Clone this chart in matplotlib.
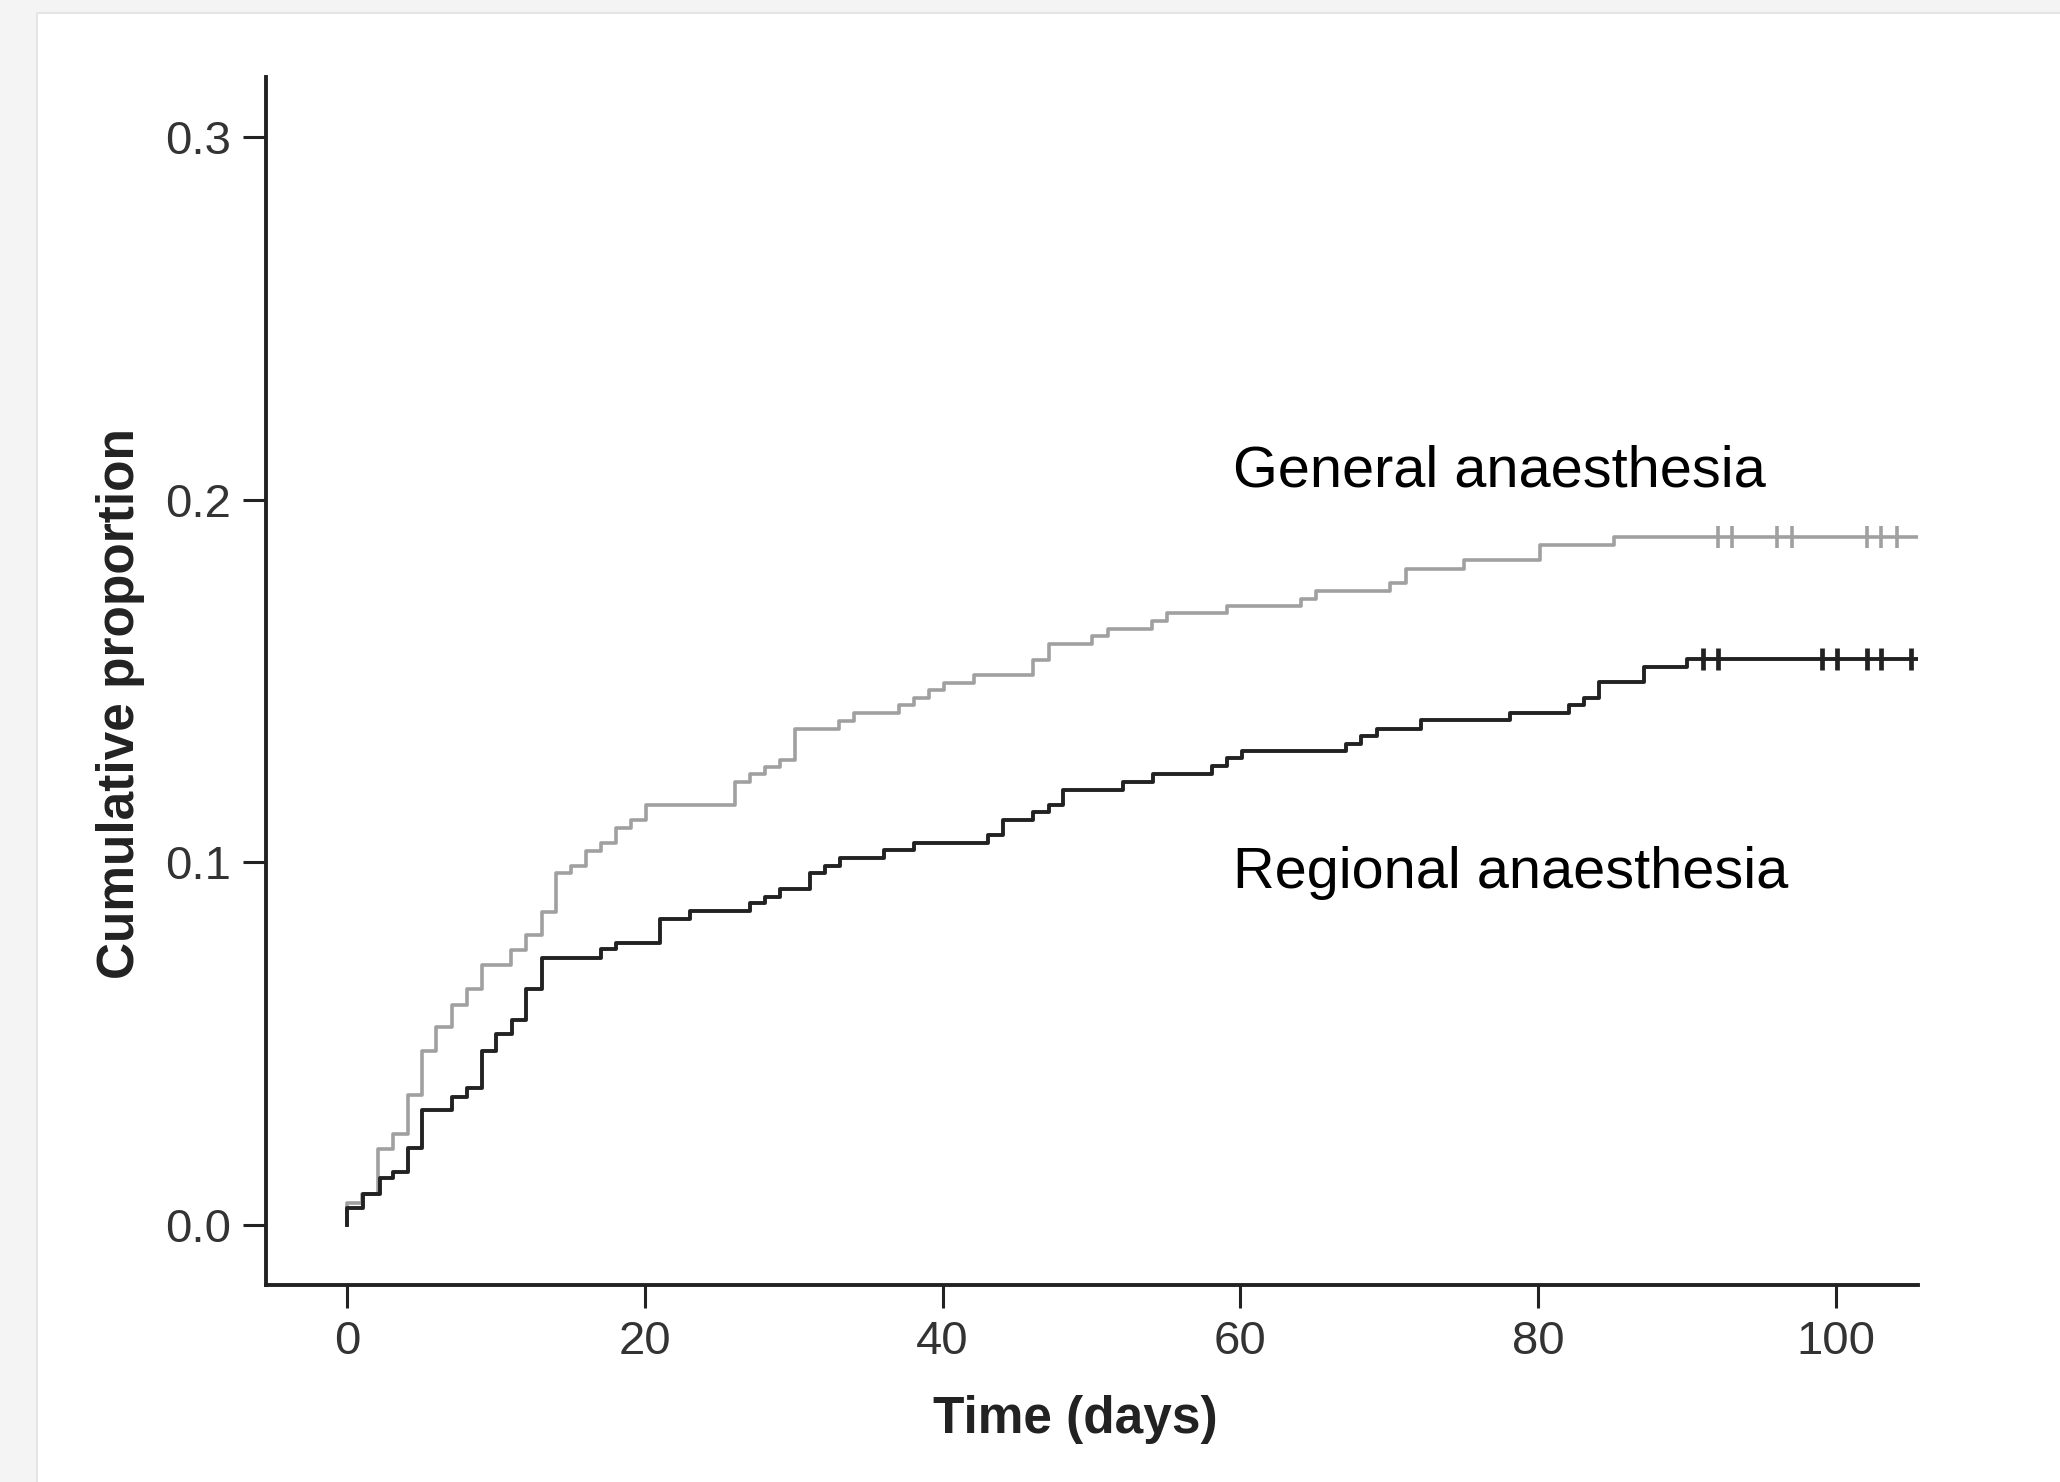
import matplotlib.pyplot as plt
from matplotlib.patches import Rectangle
import numpy as np

plt.rcParams['font.family'] = ['Liberation Sans', 'DejaVu Sans']

# Curva de incidencia acumulada - anestesia geral (cinza)
ga_times = [0, 0, 1.0, 2.05, 3.1, 4.1, 5.0, 6.0, 7.05, 8.05, 9.06, 11.0, 12.04, 13.1,
            14.05, 15.04, 16.07, 17.05, 18.06, 19.07, 20.1, 26.03, 27.04, 28.05, 29.05,
            30.1, 33.05, 34.07, 37.05, 38.06, 39.1, 40.07, 42.1, 46.05, 47.12, 50.04,
            51.09, 54.07, 55.08, 59.1, 64.08, 65.1, 70.08, 71.09, 75.05, 80.09, 85.08, 105.6]
ga_values = [0.0, 0.006, 0.0084, 0.0207, 0.025, 0.0357, 0.048, 0.0546, 0.0605, 0.0651,
             0.0716, 0.0757, 0.0798, 0.0863, 0.0969, 0.099, 0.1031, 0.1053, 0.1095, 0.1117,
             0.1157, 0.1221, 0.1242, 0.1263, 0.1283, 0.1368, 0.1389, 0.141, 0.1433, 0.1454,
             0.1474, 0.1494, 0.1515, 0.1557, 0.1601, 0.1623, 0.1644, 0.1665, 0.1686, 0.1707,
             0.1727, 0.1748, 0.177, 0.181, 0.1833, 0.1874, 0.1897, 0.1897]
ga_censored = [92.09, 93.03, 96.06, 97.06, 102.06, 103.04, 104.07]

# Curva - anestesia regional (preta)
ra_times = [0, 0, 1.07, 2.2, 3.1, 4.1, 5.0, 7.05, 8.05, 9.06, 10.0, 11.1, 12.04, 13.1,
            17.05, 18.06, 21.04, 23.06, 27.09, 28.05, 29.05, 31.07, 32.12, 33.1, 36.04,
            38.06, 43.03, 44.06, 46.05, 47.12, 48.07, 52.1, 54.14, 58.1, 59.1, 60.1, 67.06,
            68.1, 69.14, 72.1, 78.1, 82.06, 83.06, 84.07, 87.1, 90.0, 105.6]
ra_values = [0.0, 0.0045, 0.0085, 0.0127, 0.0146, 0.021, 0.0316, 0.0353, 0.0378, 0.048,
             0.0525, 0.0564, 0.0651, 0.0734, 0.0759, 0.0777, 0.0842, 0.0865, 0.0886, 0.0904,
             0.0927, 0.0969, 0.099, 0.1012, 0.1033, 0.1053, 0.1074, 0.1116, 0.1138, 0.1157,
             0.12, 0.1221, 0.1244, 0.1264, 0.1286, 0.1307, 0.1327, 0.1347, 0.1368, 0.1391,
             0.141, 0.1433, 0.1454, 0.1497, 0.1538, 0.1559, 0.1559]
ra_censored = [91.06, 92.09, 99.08, 100.04, 102.1, 103.04, 105.06]

x_ticks = [0, 20, 40, 60, 80, 100]
y_ticks = [0.0, 0.1, 0.2, 0.3]


def step_value(times, values, t):
    i = np.searchsorted(times, t, side='right') - 1
    return values[i]


fig = plt.figure(figsize=(20.6, 14.82), dpi=100)
fig.patch.set_facecolor('#f3f4f3')
# moldura branca (recorte da pagina)
fig.patches.append(Rectangle((37 / 2060, -0.01), 1, (1482 - 13) / 1482 + 0.01,
                             transform=fig.transFigure, facecolor='white',
                             edgecolor='#e4e6e4', linewidth=1.5, zorder=-10))

ax = fig.add_axes([0.1291, 0.1329, 0.8019, 0.8151])
ax.patch.set_alpha(0)

gray = '#a0a0a0'
black = '#222222'

ax.step(ga_times, ga_values, where='post', color=gray, lw=2.6)
ax.step(ra_times, ra_values, where='post', color=black, lw=2.8)

ax.plot(ga_censored, [step_value(ga_times, ga_values, t) for t in ga_censored],
        linestyle='none', marker='|', markersize=16, markeredgewidth=2.6, color=gray)
ax.plot(ra_censored, [step_value(ra_times, ra_values, t) for t in ra_censored],
        linestyle='none', marker='|', markersize=16, markeredgewidth=3.4, color=black)

ax.text(59.5, 0.2037, 'General anaesthesia', fontsize=41.5, color='black', va='baseline')
ax.text(59.5, 0.0928, 'Regional anaesthesia', fontsize=41.5, color='black', va='baseline')

ax.set_xlim(-5.45, 105.5)
ax.set_ylim(-0.0167, 0.3166)
ax.set_xticks(x_ticks)
ax.set_yticks(y_ticks)
ax.set_yticklabels(['%.1f' % v for v in y_ticks])

for side in ['top', 'right']:
    ax.spines[side].set_visible(False)
for side in ['left', 'bottom']:
    ax.spines[side].set_linewidth(2.8)
    ax.spines[side].set_color(black)

ax.tick_params(axis='both', length=16.5, width=2.2, color=black, labelcolor='#333333',
               labelsize=34)
ax.tick_params(axis='x', pad=9)
ax.tick_params(axis='y', pad=8.5)

ax.set_xlabel('Time (days)', fontsize=37, fontweight='bold', color='#222222', va='center')
ax.set_ylabel('Cumulative proportion', fontsize=37, fontweight='bold', color='#222222',
              va='center')
ax.xaxis.set_label_coords(0.4897, -0.111)
ax.yaxis.set_label_coords(-0.0878, 0.4818)

fig.savefig('out.png', dpi=100)
